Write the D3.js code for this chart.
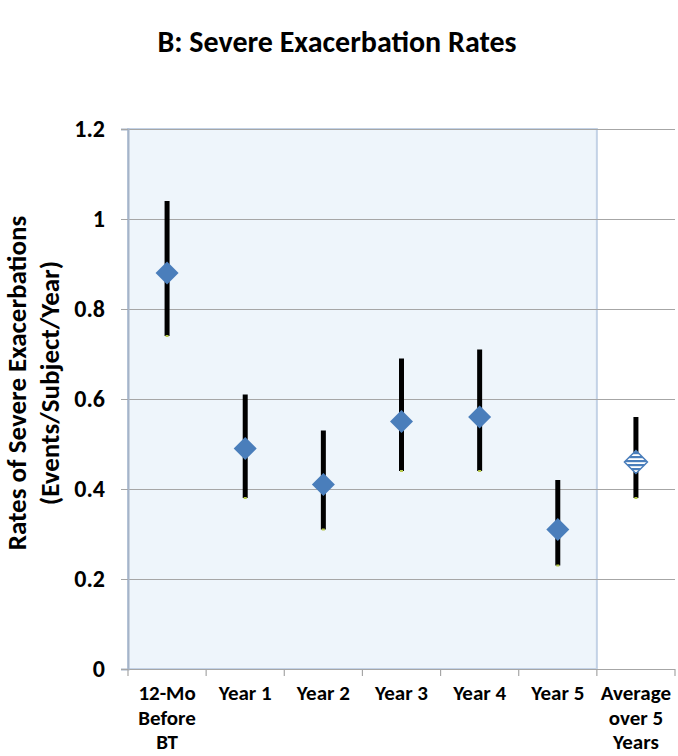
<!DOCTYPE html>
<html>
<head>
<meta charset="utf-8">
<script src="https://cdn.jsdelivr.net/npm/d3@7"></script>
<style>
  html, body { margin: 0; padding: 0; background: #fff; }
  svg { display: block; }
  text { font-family: Carlito, Lato, "Open Sans", sans-serif; font-weight: bold; fill: #000; }
</style>
</head>
<body>
<svg id="chart" width="678" height="756"></svg>
<script>
// ---- data ----
const categories = ["12-Mo|Before|BT", "Year 1", "Year 2", "Year 3", "Year 4", "Year 5", "Average|over 5|Years"];
const rates = [0.88, 0.49, 0.41, 0.55, 0.56, 0.31, 0.46];
const lowerCI = [0.74, 0.38, 0.31, 0.44, 0.44, 0.23, 0.38];
const upperCI = [1.04, 0.61, 0.53, 0.69, 0.71, 0.42, 0.56];
const yTicks = [0, 0.2, 0.4, 0.6, 0.8, 1, 1.2];
const shadedCategories = ["12-Mo|Before|BT", "Year 1", "Year 2", "Year 3", "Year 4", "Year 5"];
const chartTitle = "B: Severe Exacerbation Rates";
const yTitle = ["Rates of Severe Exacerbations", "(Events/Subject/Year)"];

// ---- layout ----
const svg = d3.select("#chart");
const mLeft = 128, mRight = 675, mTop = 129, mBottom = 669;

const x = d3.scaleBand().domain(categories).range([mLeft, mRight]).padding(0);
const y = d3.scaleLinear().domain([0, 1.2]).range([mBottom, mTop]);

// pattern for the average marker
const defs = svg.append("defs");
const pat = defs.append("pattern").attr("id", "stripes")
  .attr("patternUnits", "userSpaceOnUse").attr("width", 8).attr("height", 4);
pat.append("rect").attr("width", 8).attr("height", 4).attr("fill", "#ffffff");
pat.append("rect").attr("width", 8).attr("height", 2.2).attr("fill", "#4a7ebb");

// shaded region
const shadeX0 = x(shadedCategories[0]);
const shadeX1 = x(shadedCategories[shadedCategories.length - 1]) + x.bandwidth();
svg.append("rect")
  .attr("x", shadeX0).attr("y", y(1.2))
  .attr("width", shadeX1 - shadeX0).attr("height", y(0) - y(1.2))
  .attr("fill", "#eef5fb").attr("stroke", "#c3d2e6").attr("stroke-width", 2);

// gridlines
svg.append("g").selectAll("line").data(yTicks).join("line")
  .attr("x1", mLeft).attr("x2", mRight)
  .attr("y1", d => Math.round(y(d)) + 0.5).attr("y2", d => Math.round(y(d)) + 0.5)
  .attr("stroke", "#a6a6a6").attr("stroke-width", 1.2);

// y axis
const yAxis = svg.append("g").attr("transform", `translate(${mLeft},0)`)
  .call(d3.axisLeft(y).tickValues(yTicks).tickFormat(d => d3.format("")(d)).tickSize(7).tickPadding(16));
yAxis.select(".domain").attr("stroke", "#a6b4c8").attr("stroke-width", 2);
yAxis.selectAll(".tick line").attr("stroke", "#a6a6a6");
yAxis.selectAll(".tick text").style("font-size", "24px").attr("fill", "#000")
  .style("font-family", "Carlito, Lato, 'Open Sans', sans-serif").style("font-weight", "bold");

// x axis
const boundaries = categories.map(c => x(c)).concat([x(categories[categories.length - 1]) + x.bandwidth()]);
svg.append("g").selectAll("line").data(boundaries).join("line")
  .attr("x1", d => d).attr("x2", d => d)
  .attr("y1", mBottom).attr("y2", mBottom + 7)
  .attr("stroke", "#a6a6a6").attr("stroke-width", 1.2);

const xl = svg.append("g").selectAll("text").data(categories).join("text")
  .attr("x", d => x(d) + x.bandwidth() / 2)
  .attr("y", 700)
  .attr("text-anchor", "middle")
  .style("font-size", "21px");
xl.each(function(d) {
  const t = d3.select(this);
  d.split("|").forEach((s, i) => {
    t.append("tspan").attr("x", x(d) + x.bandwidth() / 2).attr("dy", i === 0 ? 0 : 24.5).text(s);
  });
});

// error bars
const data = categories.map((c, i) => ({ c, v: rates[i], lo: lowerCI[i], hi: upperCI[i], i }));
svg.append("g").selectAll("line").data(data).join("line")
  .attr("x1", d => x(d.c) + x.bandwidth() / 2).attr("x2", d => x(d.c) + x.bandwidth() / 2)
  .attr("y1", d => y(d.hi)).attr("y2", d => y(d.lo))
  .attr("stroke", "#000").attr("stroke-width", 5);
svg.append("g").selectAll("rect").data(data).join("rect")
  .attr("x", d => x(d.c) + x.bandwidth() / 2 - 1.5).attr("y", d => y(d.lo) - 1)
  .attr("width", 3).attr("height", 2).attr("fill", "#b5c84a");

// markers
const r = 11.5;
const diamond = d => {
  const cx = x(d.c) + x.bandwidth() / 2, cy = y(d.v);
  return `M${cx},${cy - r}L${cx + r},${cy}L${cx},${cy + r}L${cx - r},${cy}Z`;
};
svg.append("g").selectAll("path").data(data).join("path")
  .attr("d", diamond)
  .attr("fill", d => d.i === categories.length - 1 ? "url(#stripes)" : "#4a7ebb")
  .attr("stroke", d => d.i === categories.length - 1 ? "#4a7ebb" : "none")
  .attr("stroke-width", 1.5);

// title
svg.append("text").attr("x", 337).attr("y", 52).attr("text-anchor", "middle")
  .style("font-size", "30px").text(chartTitle);

// y title
const yt = svg.append("text").attr("transform", `translate(0,${(mTop + mBottom) / 2 - 16}) rotate(-90)`)
  .attr("text-anchor", "middle").style("font-size", "27px");
yt.append("tspan").attr("x", 0).attr("y", 26).text(yTitle[0]);
yt.append("tspan").attr("x", 0).attr("y", 59).text(yTitle[1]);
</script>
</body>
</html>
